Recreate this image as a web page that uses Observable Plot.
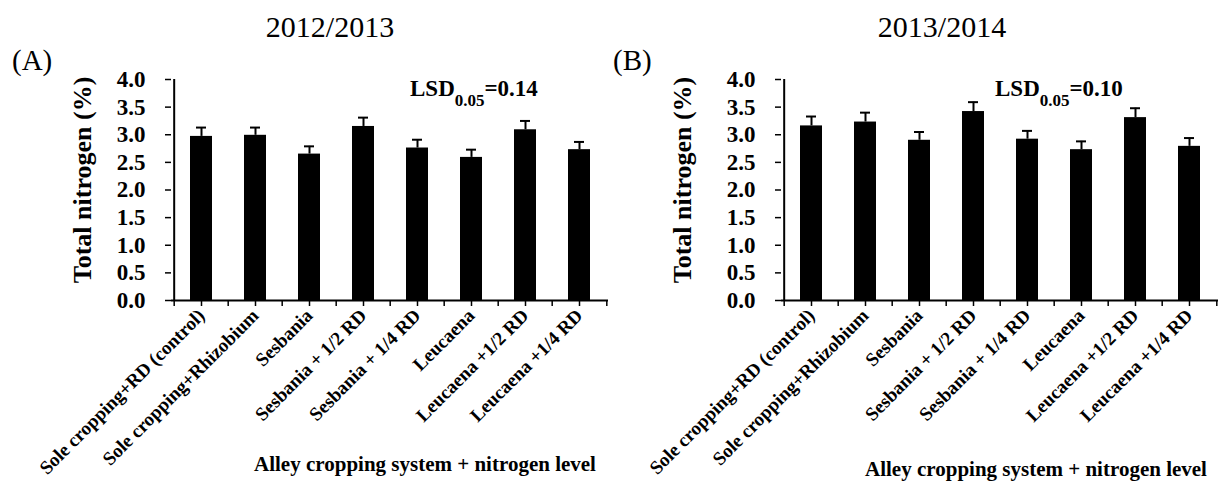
<!DOCTYPE html>
<html><head><meta charset="utf-8">
<script src="https://cdn.jsdelivr.net/npm/d3@7"></script>
<script src="https://cdn.jsdelivr.net/npm/@observablehq/plot@0.6"></script>
<style>
html,body{margin:0;padding:0;background:#fff;}
#wrap{position:relative;width:1227px;height:484px;overflow:hidden;font-family:"Liberation Serif","Times New Roman",serif;}
#wrap>div.panel{position:absolute;top:0;}
#overlay{position:absolute;left:0;top:0;}
</style></head><body><div id="wrap"></div>
<script>
const categories = ["Sole cropping+RD (control)", "Sole cropping+Rhizobium", "Sesbania", "Sesbania + 1/2 RD", "Sesbania + 1/4 RD", "Leucaena", "Leucaena +1/2 RD", "Leucaena +1/4 RD"];
const seasonA = "2012/2013";
const seasonB = "2013/2014";
const nitrogenA = [2.97, 2.99, 2.65, 3.15, 2.76, 2.59, 3.09, 2.73];
const errorA    = [0.16, 0.14, 0.14, 0.16, 0.15, 0.14, 0.16, 0.14];
const nitrogenB = [3.16, 3.23, 2.90, 3.42, 2.92, 2.73, 3.31, 2.79];
const errorB    = [0.17, 0.17, 0.15, 0.17, 0.15, 0.15, 0.17, 0.15];
const yTicks = [0, 0.5, 1.0, 1.5, 2.0, 2.5, 3.0, 3.5, 4.0];
const lsdA = "0.14";
const lsdB = "0.10";
const yTitle = "Total nitrogen (%)";
const xTitle = "Alley cropping system + nitrogen level";

const FONT = '"Liberation Serif","Times New Roman",serif';

function panel(values, errors, w, mr) {
  const ml = 171, mt = 79, mb = 184;
  const step = (w - ml - mr) / categories.length;
  const rows = categories.map((c, i) => ({c, v: values[i], top: values[i] + errors[i]}));
  return Plot.plot({
    width: w, height: 484,
    marginLeft: ml, marginRight: mr, marginTop: mt, marginBottom: mb,
    style: {fontFamily: FONT, color: "black", background: "transparent", overflow: "visible"},
    x: {domain: categories, paddingInner: 0.6, paddingOuter: 0.3},
    y: {domain: [0, 4]},
    marks: [
      Plot.barY(rows, {x: "c", y: "v", fill: "black"}),
      Plot.ruleX(rows, {x: "c", y1: "v", y2: "top", stroke: "black", strokeWidth: 2}),
      Plot.tickY(rows, {x: "c", y: "top", stroke: "black", strokeWidth: 2, insetLeft: 6, insetRight: 6}),
      Plot.ruleY([0], {stroke: "black", strokeWidth: 2}),
      Plot.ruleX([categories[0]], {x: d => d, dx: -step / 2, y1: 0, y2: 4, stroke: "black", strokeWidth: 2}),
      Plot.axisY({ticks: yTicks, tickFormat: d3.format(".1f"), tickSize: 6, tickPadding: 20, fontSize: 23, fontWeight: "bold", strokeWidth: 1.5, label: null}),
      Plot.axisX({tickSize: 6, tickPadding: 6, tickRotate: -45, fontSize: 19, fontWeight: "bold", strokeWidth: 1.5, label: null}),
      Plot.axisX({tickSize: 6, tickFormat: () => "", dx: -step / 2, strokeWidth: 1.5, label: null}),
      Plot.axisX({ticks: [categories[categories.length - 1]], tickSize: 6, tickFormat: () => "", dx: step / 2, strokeWidth: 1.5, label: null})
    ]
  });
}

const wrap = document.getElementById("wrap");
function place(node, left) {
  const d = document.createElement("div");
  d.className = "panel";
  d.style.left = left + "px";
  d.appendChild(node);
  wrap.appendChild(d);
}
place(panel(nitrogenA, errorA, 613, 5), 0);
place(panel(nitrogenB, errorB, 617, 9), 610);

// overlay with titles and labels
const ns = "http://www.w3.org/2000/svg";
const ov = document.createElementNS(ns, "svg");
ov.setAttribute("id", "overlay");
ov.setAttribute("width", 1227);
ov.setAttribute("height", 484);
ov.style.fontFamily = FONT;
function txt(s, x, y, opts = {}) {
  const t = document.createElementNS(ns, "text");
  t.setAttribute("x", x); t.setAttribute("y", y);
  t.setAttribute("font-size", opts.size || 20);
  if (opts.bold) t.setAttribute("font-weight", "bold");
  t.setAttribute("text-anchor", opts.anchor || "start");
  if (opts.rotate) t.setAttribute("transform", `rotate(${opts.rotate} ${x} ${y})`);
  t.setAttribute("fill", "black");
  t.textContent = s;
  ov.appendChild(t);
  return t;
}
function lsd(x, y, val) {
  const t = txt("", x, y, {size: 23, bold: true});
  const a = document.createElementNS(ns, "tspan"); a.textContent = "LSD"; t.appendChild(a);
  const b = document.createElementNS(ns, "tspan"); b.textContent = "0.05"; b.setAttribute("font-size", 17); b.setAttribute("dy", 10); t.appendChild(b);
  const c = document.createElementNS(ns, "tspan"); c.textContent = "=" + val; c.setAttribute("dy", -10); t.appendChild(c);
}
txt(seasonA, 330, 37, {size: 30, anchor: "middle"});
txt(seasonB, 942, 37, {size: 30, anchor: "middle"});
txt("(A)", 12, 70, {size: 29});
txt("(B)", 613, 70, {size: 29});
lsd(410, 96, lsdA);
lsd(995, 96, lsdB);
txt(yTitle, 91, 180, {size: 26, bold: true, anchor: "middle", rotate: -90});
txt(yTitle, 691, 180, {size: 26, bold: true, anchor: "middle", rotate: -90});
txt(xTitle, 425, 471, {size: 21, bold: true, anchor: "middle"});
txt(xTitle, 1036, 476, {size: 21, bold: true, anchor: "middle"});
wrap.appendChild(ov);
</script></body></html>
